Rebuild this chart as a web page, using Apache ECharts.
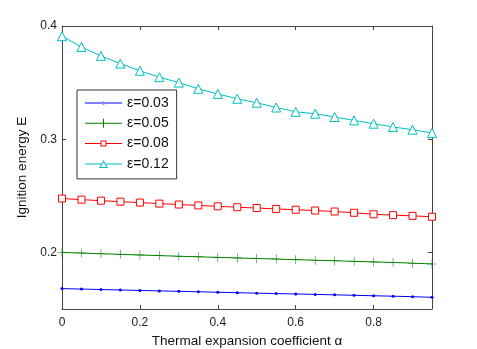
<!DOCTYPE html>
<html>
<head>
<meta charset="utf-8">
<script src="https://cdn.jsdelivr.net/npm/echarts@6/dist/echarts.min.js"></script>
<style>
  html, body { margin: 0; padding: 0; background: #fff; }
  #chart { width: 477px; height: 349px; }
</style>
</head>
<body>
<div id="chart"></div>
<script>
// alpha values, step 0.05
var alpha = [0, 0.05, 0.1, 0.15, 0.2, 0.25, 0.3, 0.35, 0.4, 0.45, 0.5,
             0.55, 0.6, 0.65, 0.7, 0.75, 0.8, 0.85, 0.9, 0.95];

var e003 = [0.1680, 0.1676, 0.1672, 0.1668, 0.1664, 0.1660, 0.1656, 0.1652, 0.1648, 0.1644,
            0.1640, 0.1636, 0.1633, 0.1629, 0.1625, 0.1621, 0.1617, 0.1613, 0.1609, 0.1603];
var e005 = [0.2000, 0.1994, 0.1988, 0.1983, 0.1977, 0.1972, 0.1966, 0.1961, 0.1956, 0.1951,
            0.1946, 0.1941, 0.1936, 0.1931, 0.1926, 0.1921, 0.1916, 0.1911, 0.1905, 0.1898];
var e008 = [0.2476, 0.2466, 0.2457, 0.2448, 0.2440, 0.2431, 0.2423, 0.2415, 0.2407, 0.2399,
            0.2392, 0.2384, 0.2377, 0.2370, 0.2361, 0.2350, 0.2337, 0.2329, 0.2323, 0.2315];
var e012 = [0.3910, 0.3815, 0.3736, 0.3668, 0.3604, 0.3548, 0.3500, 0.3445, 0.3400, 0.3357,
            0.3322, 0.3280, 0.3242, 0.3225, 0.3196, 0.3166, 0.3137, 0.3108, 0.3084, 0.3055];

var names = ['ε=0.03', 'ε=0.05', 'ε=0.08', 'ε=0.12'];
var colors = ['#0000ff', '#008000', '#ff0000', '#00bfbf'];
var xTicks = [0, 0.2, 0.4, 0.6, 0.8];
var yTicks = [0.2, 0.3, 0.4];

function pairs(ys) {
  return alpha.map(function (a, i) { return [a, ys[i]]; });
}

var font = 'Liberation Sans, Arial, sans-serif';
var plus = 'path://M-0.06,-1H0.06V-0.06H1V0.06H0.06V1H-0.06V0.06H-1V-0.06H-0.06Z';

// legend icons drawn in a 37x14 box (corner specks keep the box size)
var box = 'M0,0h0.01v0.01h-0.01ZM36.99,13.99h0.01v0.01h-0.01Z';
var legendIcons = [
  'path://' + box + 'M0,6.5H37V7.5H0ZM17,7a1.5,1.5 0 1,0 3,0a1.5,1.5 0 1,0 -3,0Z',
  'path://' + box + 'M0,6.5H37V7.5H0ZM18,2.5H19V11.5H18Z',
  'path://' + box + 'M0,6.5H15.5V7.5H0ZM21.5,6.5H37V7.5H21.5ZM15.5,4H21.5V10H15.5ZM16.5,5V9H20.5V5Z',
  'path://' + box + 'M0,6.5H16.5V7.5H0ZM20.5,6.5H37V7.5H20.5ZM18.5,3L23,11L14,11ZM18.5,5L15.7,10H21.3Z'
];

function xAx(pos, show) {
  return {
    type: 'value', position: pos, min: 0, max: 0.95,
    axisLine: { show: true, onZero: false, lineStyle: { color: '#444', width: 1 } },
    axisTick: { show: true, inside: true, length: 4, customValues: xTicks, lineStyle: { color: '#444' } },
    axisLabel: { show: show, customValues: xTicks, color: '#222', fontSize: 12, fontFamily: font, margin: 8 },
    splitLine: { show: false },
    name: show ? 'Thermal expansion coefficient α' : '',
    nameLocation: 'middle', nameGap: 23,
    nameTextStyle: { color: '#111', fontSize: 13.5, fontFamily: font }
  };
}
function yAx(pos, show) {
  return {
    type: 'value', position: pos, min: 0.15, max: 0.4,
    axisLine: { show: true, onZero: false, lineStyle: { color: '#444', width: 1 } },
    axisTick: { show: true, inside: true, length: 4, customValues: yTicks, lineStyle: { color: '#444' } },
    axisLabel: { show: show, customValues: yTicks, color: '#222', fontSize: 12, fontFamily: font, margin: 5,
                 formatter: function (v) { return String(+v.toFixed(2)); } },
    splitLine: { show: false },
    name: show ? 'Ignition energy E' : '',
    nameLocation: 'middle', nameGap: 32,
    nameTextStyle: { color: '#111', fontSize: 13.5, fontFamily: font }
  };
}

function line(name, ys, color, symbol, size, fill, bw) {
  return {
    name: name, type: 'line', data: pairs(ys),
    symbol: symbol, symbolSize: size, showSymbol: true,
    lineStyle: { color: color, width: 1 },
    itemStyle: { color: fill, borderColor: color, borderWidth: bw },
    animation: false
  };
}

var chart = echarts.init(document.getElementById('chart'));
chart.setOption({
  backgroundColor: '#fff',
  grid: { left: 62, top: 26, right: 45, bottom: 40, outerBoundsMode: 'none', containLabel: false },
  xAxis: [xAx('bottom', true), xAx('top', false)],
  yAxis: [yAx('left', true), yAx('right', false)],
  legend: {
    orient: 'vertical', left: 77, top: 90,
    data: names.map(function (n, i) {
      return { name: n, icon: legendIcons[i], itemStyle: { color: colors[i], borderWidth: 0 } };
    }),
    padding: [6, 8, 8, 8],
    itemWidth: 37, itemHeight: 14, itemGap: 6.3,
    borderColor: '#333', borderWidth: 1, backgroundColor: '#fff',
    textStyle: { color: '#111', fontSize: 14, fontFamily: font }
  },
  series: [
    line(names[0], e003, colors[0], 'circle', 3, colors[0], 0),
    line(names[1], e005, colors[1], plus, 9, colors[1], 0),
    line(names[2], e008, colors[2], 'rect', 7, '#ffffff', 1),
    line(names[3], e012, colors[3], 'triangle', 9, '#ffffff', 1)
  ]
});
</script>
</body>
</html>
